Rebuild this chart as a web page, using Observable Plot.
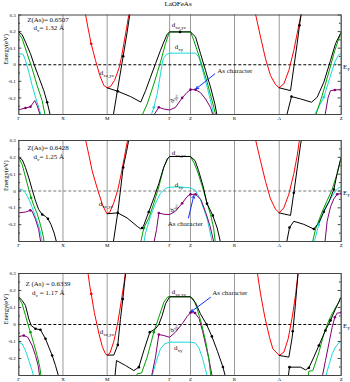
<!DOCTYPE html>
<html><head><meta charset="utf-8">
<script src="https://cdn.jsdelivr.net/npm/d3@7"></script>
<script src="https://cdn.jsdelivr.net/npm/@observablehq/plot@0.6"></script>
<style>
body{margin:0;background:#fff;}
#wrap{position:relative;width:350px;height:382px;overflow:hidden;font-family:"Liberation Serif",serif;}
#title{position:absolute;top:0;left:0;width:356px;text-align:center;font-size:7px;line-height:9px;}
#wrap svg{position:absolute;left:0;}
</style></head>
<body><div id="wrap"><div id="title">LaOFeAs</div></div>
<script>
// ---------- axis data ----------
const kTicks = [0, 1, 2, 3.414, 3.886, 4.882, 5.894, 7.297];
const kLabels = ["Γ", "X", "M", "Γ", "Z", "R", "A", "Z"];
const eTicks = [-0.2, -0.1, 0, 0.1, 0.2, 0.3];
const eMinor = [-0.25, -0.15, -0.05, 0.05, 0.15, 0.25];

// ---------- panel 1 : Z(As)=0.6507 ----------
const p1_black = [
  [[0,0.198],[0.075,0.182],[0.151,0.137],[0.264,0.067],[0.34,0.006],[0.453,-0.075],[0.566,-0.156],[0.642,-0.226],[0.717,-0.31]],
  [[2.136,-0.31],[2.242,-0.139],[2.362,0.051],[2.453,0.198],[2.513,0.305]],
  [[2.0,-0.139],[2.24,-0.16],[2.53,-0.192],[2.76,-0.225],[2.87,-0.156],[2.981,-0.075],[3.094,0.006],[3.207,0.087],[3.283,0.137],[3.358,0.184],[3.414,0.198],[3.886,0.198],[4.0,0.168],[4.113,0.067],[4.226,-0.034],[4.339,-0.135],[4.437,-0.236],[4.49,-0.31]],
  [[5.893,-0.139],[6.15,-0.156],[6.225,-0.014],[6.3,0.127],[6.353,0.238],[6.391,0.305]],
  [[6.059,-0.31],[6.172,-0.192],[6.376,-0.206],[6.625,-0.226],[6.753,-0.196],[6.904,-0.105],[7.055,0.026],[7.168,0.127],[7.297,0.198]]
];
const p1_red = [
  [[1.509,0.305],[1.562,0.228],[1.638,0.127],[1.736,0.026],[1.834,-0.065],[1.925,-0.125],[2.0,-0.139],[2.075,-0.131],[2.166,-0.095],[2.264,-0.024],[2.317,0.036],[2.377,0.127],[2.438,0.218],[2.491,0.305]],
  [[5.358,0.305],[5.471,0.168],[5.584,0.036],[5.697,-0.065],[5.81,-0.119],[5.893,-0.139],[5.999,-0.115],[6.112,-0.034],[6.225,0.087],[6.3,0.188],[6.361,0.269],[6.391,0.305]]
];
const p1_green = [
  [[0,0.188],[0.075,0.158],[0.189,0.067],[0.302,-0.024],[0.415,-0.125],[0.528,-0.216],[0.6,-0.31]],
  [[2.78,-0.31],[2.906,-0.237],[3.056,-0.116],[3.207,0.016],[3.32,0.127],[3.396,0.188],[3.414,0.198],[3.886,0.198],[3.961,0.147],[4.112,0.026],[4.263,-0.105],[4.414,-0.257],[4.46,-0.31]],
  [[6.715,-0.31],[6.866,-0.186],[7.017,-0.044],[7.153,0.087],[7.243,0.158],[7.297,0.192]]
];
const p1_cyan = [
  [[0,0.067],[0.098,0.063],[0.151,0.026],[0.226,-0.044],[0.302,-0.125],[0.377,-0.196],[0.453,-0.257],[0.506,-0.31]],
  [[2.99,-0.31],[3.056,-0.257],[3.132,-0.176],[3.207,-0.055],[3.268,0.036],[3.343,0.062],[3.414,0.07],[4.0,0.07],[4.075,0.046],[4.15,-0.024],[4.263,-0.135],[4.376,-0.257],[4.42,-0.31]],
  [[6.677,-0.31],[6.904,-0.196],[7.032,-0.085],[7.153,0.016],[7.243,0.061],[7.297,0.067]]
];
const p1_purple = [
  [[0,-0.271],[0.151,-0.261],[0.264,-0.253],[0.362,-0.216],[0.415,-0.246],[0.491,-0.31]],
  [[3.04,-0.31],[3.169,-0.257],[3.283,-0.267],[3.414,-0.273],[3.546,-0.257],[3.697,-0.2],[3.81,-0.166],[3.886,-0.15],[4.0,-0.15],[4.113,-0.168],[4.226,-0.206],[4.339,-0.257],[4.40,-0.31]],
  [[6.927,-0.31],[7.002,-0.196],[7.055,-0.156],[7.153,-0.152],[7.297,-0.15]]
];
const p1_dots_black = [[0.642,-0.226],[2.362,0.051],[2.24,-0.16],[3.65,0.198],[6.353,0.238],[6.172,-0.192]];
const p1_dots_red = [[1.638,0.127]];
const p1_dots_purple = [[0.151,-0.261],[0.264,-0.253],[3.169,-0.257],[3.697,-0.2],[3.886,-0.15],[4.0,-0.15],[7.153,-0.152],[7.297,-0.15]];
const p1_dots_cyan = [[3.056,-0.257],[6.904,-0.196]];
const p1_labels = [
  [0.19,0.273,"Z(As)= 0.6507"],[0.33,0.222,"d_{v}= 1.32 Å"],[1.834,-0.05,"d_{xz,yz}"],
  [3.46,0.244,"d_{xz,yz}"],[3.53,0.111,"d_{xy}"],[4.49,-0.035,"As character"],[7.34,-0.012,"E_{F}"]
];
const p1_rotLabel = [[3.5,-0.2,"d_{3z²}"]];
const p1_arrow = [[4.437,-0.055,4.015,-0.145]];

// ---------- panel 2 : Z(As)=0.6428 ----------
const p2_black = [
  [[0,0.2],[0.08,0.185],[0.15,0.14],[0.23,0.075],[0.3,0.01],[0.38,-0.06],[0.45,-0.11],[0.53,-0.14],[0.6,-0.15],[0.66,-0.165],[0.73,-0.2],[0.8,-0.25],[0.86,-0.31]],
  [[2.136,-0.31],[2.242,-0.125],[2.362,0.14],[2.438,0.234],[2.49,0.305]],
  [[2.0,-0.135],[2.24,-0.13],[2.45,-0.16],[2.68,-0.21],[2.76,-0.225],[2.82,-0.21],[2.94,-0.125],[3.06,-0.04],[3.17,0.045],[3.28,0.14],[3.36,0.19],[3.414,0.205],[3.886,0.205],[3.99,0.18],[4.07,0.12],[4.17,0.03],[4.26,-0.075],[4.39,-0.145],[4.49,-0.22],[4.57,-0.31]],
  [[5.893,-0.13],[6.15,-0.145],[6.225,-0.01],[6.3,0.132],[6.376,0.274],[6.398,0.305]],
  [[6.059,-0.31],[6.127,-0.217],[6.225,-0.18],[6.451,-0.198],[6.678,-0.226],[6.791,-0.189],[6.904,-0.123],[7.017,-0.066],[7.13,0.009],[7.206,0.104],[7.297,0.204]]
];
const p2_red = [
  [[1.51,0.305],[1.585,0.215],[1.66,0.12],[1.774,0.017],[1.887,-0.077],[1.962,-0.12],[2.0,-0.135],[2.06,-0.125],[2.15,-0.07],[2.242,0.008],[2.317,0.1],[2.392,0.205],[2.453,0.29],[2.47,0.305]],
  [[5.358,0.305],[5.471,0.179],[5.584,0.057],[5.697,-0.047],[5.81,-0.108],[5.893,-0.13],[5.999,-0.1],[6.112,-0.019],[6.225,0.104],[6.3,0.208],[6.353,0.305]]
];
const p2_green = [
  [[0,0.196],[0.075,0.158],[0.151,0.083],[0.226,0.008],[0.279,-0.04],[0.34,-0.087],[0.415,-0.134],[0.49,-0.2],[0.551,-0.266],[0.58,-0.31]],
  [[2.755,-0.31],[2.83,-0.22],[2.944,-0.16],[3.056,-0.073],[3.169,0.025],[3.283,0.143],[3.373,0.192],[3.414,0.205],[3.886,0.205],[3.96,0.17],[4.04,0.12],[4.15,0.03],[4.26,-0.07],[4.34,-0.14],[4.41,-0.22],[4.45,-0.31]],
  [[6.642,-0.31],[6.717,-0.226],[6.866,-0.123],[6.979,-0.057],[7.092,0.009],[7.206,0.104],[7.297,0.2]]
];
const p2_cyan = [
  [[0,0.013],[0.075,0.008],[0.151,-0.011],[0.226,-0.049],[0.302,-0.096],[0.377,-0.153],[0.453,-0.209],[0.506,-0.266],[0.536,-0.31]],
  [[2.83,-0.31],[2.868,-0.249],[2.981,-0.151],[3.094,-0.073],[3.207,-0.014],[3.32,0.016],[3.414,0.022],[3.62,0.025],[3.886,0.018],[4.0,0.003],[4.11,-0.05],[4.263,-0.165],[4.35,-0.27],[4.38,-0.31]],
  [[6.68,-0.31],[6.79,-0.2],[6.94,-0.094],[7.055,-0.047],[7.168,0.0],[7.243,0.019],[7.297,0.025]]
];
const p2_purple = [
  [[0,-0.13],[0.15,-0.125],[0.26,-0.115],[0.3,-0.12],[0.38,-0.17],[0.45,-0.23],[0.5,-0.31]],
  [[3.056,-0.31],[3.117,-0.23],[3.169,-0.131],[3.283,-0.138],[3.414,-0.14],[3.546,-0.12],[3.697,-0.073],[3.81,-0.033],[3.886,-0.02],[4.0,-0.02],[4.12,-0.05],[4.24,-0.135],[4.33,-0.21],[4.42,-0.31]],
  [[6.927,-0.31],[6.979,-0.179],[7.055,-0.094],[7.13,-0.047],[7.206,-0.019],[7.297,-0.015]]
];
const p2_dots_black = [[0.53,-0.14],[0.66,-0.165],[2.242,-0.13],[2.362,0.14],[2.79,-0.22],[2.94,-0.125],[4.26,-0.075],[4.39,-0.145],[6.127,-0.217],[6.678,-0.226],[6.904,-0.123],[7.13,0.009],[6.225,-0.01]];
const p2_dots_green = [[0.279,-0.04],[2.83,-0.22]];
const p2_dots_purple = [[0.26,-0.115],[3.169,-0.131],[3.697,-0.073],[3.886,-0.02],[4.0,-0.02],[7.206,-0.019],[7.297,-0.015]];
const p2_dots_cyan = [[6.79,-0.2]];
const p2_labels = [
  [0.19,0.255,"Z(As)= 0.6428"],[0.33,0.205,"d_{v}= 1.25 Å"],[1.81,-0.075,"d_{xz,yz}"],
  [3.46,0.225,"d_{xz,yz}"],[3.53,0.04,"d_{xy}"],[3.37,-0.197,"As character"],[7.34,-0.01,"E_{F}"]
];
const p2_rotLabel = [[3.5,-0.1,"d_{3z²}"]];
const p2_arrow = [[3.84,-0.16,3.96,-0.028]];

// ---------- panel 3 : Z(As)=0.6339 ----------
const p3_black = [
  [[0,0.161],[0.075,0.141],[0.151,0.112],[0.226,0.033],[0.279,-0.006],[0.377,-0.025],[0.49,-0.031],[0.604,-0.084],[0.679,-0.133],[0.755,-0.182],[0.83,-0.241],[0.906,-0.31]],
  [[2.0,-0.18],[2.15,-0.18],[2.24,-0.12],[2.30,0.03],[2.355,0.15],[2.39,0.239],[2.423,0.31]],
  [[2.174,-0.31],[2.211,-0.212],[2.415,-0.241],[2.604,-0.271],[2.717,-0.251],[2.83,-0.153],[2.966,-0.045],[3.094,-0.025],[3.169,0.0],[3.245,0.053],[3.321,0.122],[3.414,0.163],[3.886,0.163],[4.0,0.128],[4.11,0.063],[4.25,0.0],[4.37,-0.07],[4.5,-0.16],[4.62,-0.25],[4.68,-0.31]],
  [[5.893,-0.182],[6.112,-0.192],[6.188,-0.075],[6.248,0.082],[6.324,0.31]],
  [[6.097,-0.31],[6.127,-0.251],[6.376,-0.251],[6.489,-0.267],[6.565,-0.255],[6.678,-0.192],[6.791,-0.124],[6.941,-0.035],[7.055,0.024],[7.168,0.092],[7.297,0.161]]
];
const p3_red = [
  [[1.562,0.31],[1.61,0.22],[1.64,0.18],[1.71,0.07],[1.81,-0.05],[1.89,-0.13],[1.96,-0.172],[2.0,-0.18],[2.06,-0.17],[2.15,-0.1],[2.24,0.01],[2.32,0.14],[2.38,0.239],[2.415,0.31]],
  [[5.396,0.31],[5.471,0.18],[5.569,0.043],[5.674,-0.075],[5.75,-0.143],[5.893,-0.182],[5.999,-0.163],[6.097,-0.084],[6.188,0.043],[6.263,0.171],[6.323,0.31]]
];
const p3_green = [
  [[0,0.155],[0.075,0.122],[0.151,0.053],[0.226,-0.016],[0.264,-0.045],[0.34,-0.114],[0.415,-0.182],[0.475,-0.251],[0.506,-0.31]],
  [[2.66,-0.31],[2.68,-0.29],[2.78,-0.285],[2.906,-0.192],[3.056,-0.045],[3.169,0.043],[3.283,0.131],[3.373,0.163],[3.414,0.163],[3.886,0.163],[3.95,0.15],[4.02,0.105],[4.13,0.01],[4.23,-0.1],[4.3,-0.2],[4.35,-0.31]],
  [[6.55,-0.31],[6.565,-0.275],[6.656,-0.271],[6.791,-0.165],[6.904,-0.055],[7.017,0.024],[7.13,0.082],[7.243,0.131],[7.297,0.161]]
];
const p3_cyan = [
  [[0,-0.104],[0.075,-0.114],[0.151,-0.153],[0.226,-0.212],[0.302,-0.271],[0.34,-0.31]],
  [[3.0,-0.31],[3.019,-0.3],[3.117,-0.212],[3.207,-0.143],[3.298,-0.114],[3.414,-0.104],[3.886,-0.104],[3.99,-0.108],[4.08,-0.14],[4.16,-0.2],[4.22,-0.26],[4.27,-0.31]],
  [[6.941,-0.31],[7.017,-0.241],[7.092,-0.173],[7.168,-0.133],[7.243,-0.108],[7.297,-0.1]]
];
const p3_purple = [
  [[0,-0.071],[0.113,-0.065],[0.204,-0.075],[0.302,-0.124],[0.377,-0.182],[0.438,-0.241],[0.475,-0.31]],
  [[3.0,-0.31],[3.094,-0.192],[3.169,-0.059],[3.283,-0.065],[3.414,-0.075],[3.546,-0.045],[3.697,0.004],[3.81,0.047],[3.886,0.07],[3.99,0.068],[4.08,0.035],[4.16,-0.04],[4.23,-0.12],[4.3,-0.2],[4.38,-0.31]],
  [[6.866,-0.31],[6.941,-0.212],[7.017,-0.114],[7.092,-0.016],[7.153,0.043],[7.206,0.067],[7.297,0.07]]
];
const p3_dots_black = [[0.377,-0.025],[0.49,-0.031],[0.604,-0.084],[0.755,-0.182],[2.24,-0.12],[2.355,0.15],[2.717,-0.251],[2.966,-0.045],[4.25,0.0],[4.37,-0.07],[4.62,-0.25],[6.127,-0.251],[6.565,-0.255],[6.791,-0.124],[6.941,-0.035],[7.055,0.024],[6.2,-0.04]];
const p3_dots_green = [[0.264,-0.045],[3.056,-0.045]];
const p3_dots_purple = [[0.113,-0.065],[3.169,-0.059],[3.886,0.07],[3.99,0.068],[7.153,0.043],[7.297,0.07]];
const p3_dots_red = [[1.64,0.18]];
const p3_labels = [
  [0.15,0.24,"Z (As) = 0.6339"],[0.3,0.185,"d_{v} = 1.17 Å"],[1.834,-0.045,"d_{xz,yz}"],
  [3.46,0.19,"d_{xz,yz}"],[3.51,-0.137,"d_{xy}"],[4.377,0.184,"As character"],[7.34,-0.01,"E_{F}"]
];
const p3_rotLabel = [[3.5,-0.02,"d_{3z²}"]];
const p3_arrow = [[4.339,0.16,3.9,0.075]];

// ---------- drawing ----------
const COL = {black:"#000000", red:"#ff0000", green:"#00a000", cyan:"#19d9d9", purple:"#800070"};
const W = 350, ML = 18.3, MR = 9.3, PW = W - ML - MR;

function bandMarks(segs, color) {
  return segs.map(s => Plot.line(s, {x: d => d[0], y: d => d[1], stroke: color, strokeWidth: 1, clip: true}));
}
function dotMarks(pts, color) {
  return pts ? [Plot.dot(pts, {x: d => d[0], y: d => d[1], r: 1.3, fill: color, clip: true})] : [];
}
function subscriptify(svg) {
  d3.select(svg).selectAll("text").each(function() {
    const t = this.textContent;
    if (!/_\{/.test(t)) return;
    const parts = t.split(/(_\{[^}]*\})/).filter(p => p.length);
    while (this.firstChild) this.removeChild(this.firstChild);
    let sub = false;
    for (const p of parts) {
      const ts = document.createElementNS("http://www.w3.org/2000/svg", "tspan");
      if (p.startsWith("_{")) {
        ts.textContent = p.slice(2, -1);
        ts.setAttribute("dy", "2");
        ts.setAttribute("font-size", "5");
        sub = true;
      } else {
        ts.textContent = p;
        if (sub) ts.setAttribute("dy", "-2");
        sub = false;
      }
      this.appendChild(ts);
    }
  });
}

function panel(cfg) {
  const marks = [
    Plot.ruleX(kTicks, {stroke: "#9a9a9a", strokeWidth: 1}),
    Plot.ruleY([0], {stroke: cfg.zeroColor, strokeDasharray: "3,2", strokeWidth: 1}),
    ...bandMarks(cfg.red, COL.red),
    ...bandMarks(cfg.cyan, COL.cyan),
    ...bandMarks(cfg.purple, COL.purple),
    ...bandMarks(cfg.green, COL.green),
    ...bandMarks(cfg.black, COL.black),
    ...dotMarks(cfg.dotsRed, COL.red),
    ...dotMarks(cfg.dotsCyan, COL.cyan),
    ...dotMarks(cfg.dotsGreen, COL.green),
    ...dotMarks(cfg.dotsPurple, COL.purple),
    ...dotMarks(cfg.dotsBlack, COL.black),
    Plot.frame({stroke: "#444", strokeWidth: 1}),
    Plot.tickY(eTicks, {y: d => d, insetRight: PW - 3, stroke: "#444"}),
    Plot.tickY(eTicks, {y: d => d, insetLeft: PW - 3, stroke: "#444"}),
    Plot.tickY(eMinor, {y: d => d, insetRight: PW - 1.8, stroke: "#444"}),
    Plot.tickY(eMinor, {y: d => d, insetLeft: PW - 1.8, stroke: "#444"}),
    Plot.axisY({ticks: eTicks, tickSize: 0, tickPadding: 3, tickFormat: d => String(d), fontSize: 5, label: null}),
    Plot.axisX({ticks: kTicks, tickSize: 0, tickPadding: 2, tickFormat: d => kLabels[kTicks.indexOf(d)], fontSize: 5, label: null}),
    Plot.text(["Energy(eV)"], {frameAnchor: "left", rotate: -90, dx: -13, fontSize: 6.5}),
    Plot.arrow(cfg.arrow, {x1: d => d[0], y1: d => d[1], x2: d => d[2], y2: d => d[3], stroke: "#1030ff", strokeWidth: 1, headLength: 4}),
    Plot.text(cfg.labels, {x: d => d[0], y: d => d[1], text: d => d[2], textAnchor: "start", fontSize: 7, fill: "#111"}),
    Plot.text(cfg.rot, {x: d => d[0], y: d => d[1], text: d => d[2], rotate: -62, fontSize: 6, fill: "#111"})
  ];
  const svg = Plot.plot({
    width: W, height: cfg.height,
    marginLeft: ML, marginRight: MR, marginTop: cfg.mt, marginBottom: cfg.mb,
    x: {domain: [0, 7.297], axis: null},
    y: {domain: [-0.3, 0.3], axis: null},
    style: {fontFamily: "'Liberation Serif', serif", background: "transparent", overflow: "visible"},
    marks
  });
  subscriptify(svg);
  svg.style.top = cfg.top + "px";
  document.getElementById("wrap").appendChild(svg);
}

panel({top: 0, height: 125, mt: 14.5, mb: 11, zeroColor: "#000",
  black: p1_black, red: p1_red, green: p1_green, cyan: p1_cyan, purple: p1_purple,
  dotsBlack: p1_dots_black, dotsRed: p1_dots_red, dotsPurple: p1_dots_purple, dotsCyan: p1_dots_cyan,
  labels: p1_labels, rot: p1_rotLabel, arrow: p1_arrow});
panel({top: 125, height: 125, mt: 15, mb: 9, zeroColor: "#777",
  black: p2_black, red: p2_red, green: p2_green, cyan: p2_cyan, purple: p2_purple,
  dotsBlack: p2_dots_black, dotsGreen: p2_dots_green, dotsPurple: p2_dots_purple, dotsCyan: p2_dots_cyan,
  labels: p2_labels, rot: p2_rotLabel, arrow: p2_arrow});
panel({top: 250, height: 132, mt: 23, mb: 7, zeroColor: "#000",
  black: p3_black, red: p3_red, green: p3_green, cyan: p3_cyan, purple: p3_purple,
  dotsBlack: p3_dots_black, dotsRed: p3_dots_red, dotsGreen: p3_dots_green, dotsPurple: p3_dots_purple,
  labels: p3_labels, rot: p3_rotLabel, arrow: p3_arrow});
</script>
</body></html>
